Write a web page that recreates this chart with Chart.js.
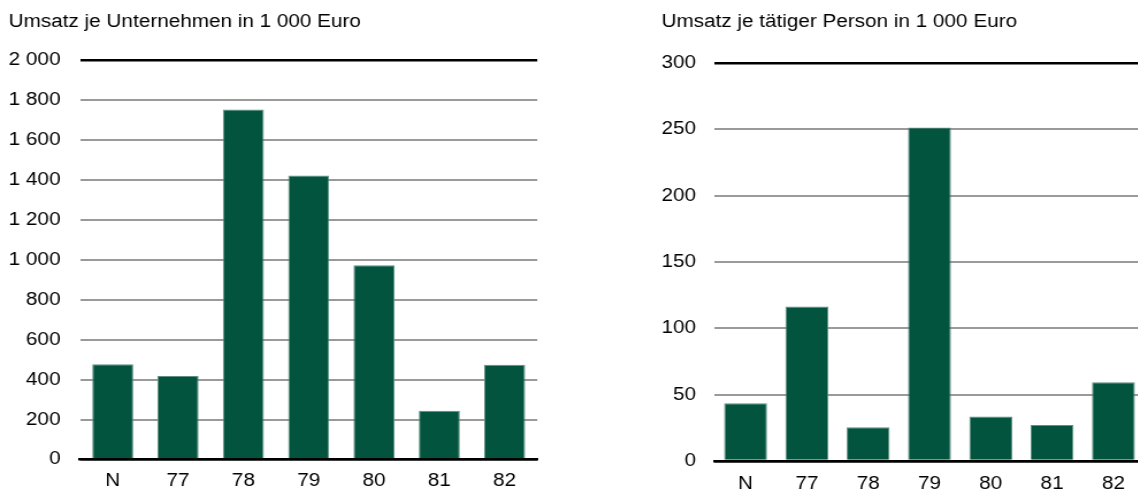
<!DOCTYPE html>
<html lang="de">
<head>
<meta charset="utf-8">
<title>Umsatz je Unternehmen / je tätiger Person</title>
<script src="https://cdn.jsdelivr.net/npm/chart.js@4/dist/chart.umd.min.js"></script>
<style>
    html, body {
        margin: 0;
        padding: 0;
        background: #ffffff;
        overflow: hidden;
        width: 1138px;
        height: 495px;
    }
    .chart-box {
        position: absolute;
        top: 0;
        height: 495px;
        transform: scaleX(1.15);
        transform-origin: 0 0;
    }
    #leftBox {
        left: 0;
        width: 480px;
    }
    #rightBox {
        left: 650px;
        width: 440px;
    }
</style>
</head>
<body>
<div class="chart-box" id="leftBox"><canvas id="leftChart"></canvas></div>
<div class="chart-box" id="rightBox"><canvas id="rightChart"></canvas></div>

<script>
var categories = ['N', '77', '78', '79', '80', '81', '82'];
var umsatzJeUnternehmen = [477, 418, 1752, 1422, 972, 244, 474];
var umsatzJePerson = [43.6, 116.5, 25.4, 251.3, 33.5, 27.2, 59.4];
var leftTicks = {min: 0, max: 2000, step: 200};
var rightTicks = {min: 0, max: 300, step: 50};

var FONT_FAMILY = "'Liberation Sans', Arial, Helvetica, sans-serif";
var BAR_COLOR = '#03543f';
var BAR_EDGE = '#5f8f80';
var GRID_GRAY = '#9a9a9a';
var HIDDEN = 'rgba(0,0,0,0)';

function formatNumber(value) {
    return String(value).replace(/\B(?=(\d{3})+(?!\d))/g, ' ');
}

// tick marks are kept but made invisible: they only give the gap between labels and plot
function buildChart(canvasId, title, values, ticks, layout) {
    var ctx = document.getElementById(canvasId);

    return new Chart(ctx, {
        type: 'bar',
        data: {
            labels: categories,
            datasets: [{
                label: title,
                data: values,
                backgroundColor: BAR_COLOR,
                borderColor: BAR_EDGE,
                borderWidth: 1,
                barPercentage: layout.barPercentage,
                categoryPercentage: 1
            }]
        },
        options: {
            responsive: true,
            maintainAspectRatio: false,
            animation: false,
            layout: {
                padding: layout.padding
            },
            plugins: {
                legend: {display: false},
                tooltip: {enabled: false},
                title: {
                    display: true,
                    text: title,
                    align: 'start',
                    color: '#000000',
                    font: {family: FONT_FAMILY, size: 18, weight: 'normal'},
                    padding: layout.titlePadding
                }
            },
            scales: {
                x: {
                    grid: {
                        display: true,
                        color: HIDDEN,
                        tickColor: HIDDEN,
                        drawTicks: true,
                        tickLength: layout.xGap
                    },
                    border: {display: true, color: '#000000', width: 2.5},
                    ticks: {
                        color: '#000000',
                        font: {family: FONT_FAMILY, size: 18, lineHeight: 1},
                        padding: 0
                    }
                },
                y: {
                    min: ticks.min,
                    max: ticks.max,
                    border: {display: false},
                    grid: {
                        drawTicks: true,
                        tickLength: layout.yGap,
                        tickColor: HIDDEN,
                        color: function(context) {
                            var v = context.tick ? context.tick.value : null;
                            return (v === ticks.max || v === ticks.min) ? '#000000' : GRID_GRAY;
                        },
                        lineWidth: function(context) {
                            var v = context.tick ? context.tick.value : null;
                            return (v === ticks.max || v === ticks.min) ? 2.5 : 2;
                        }
                    },
                    ticks: {
                        stepSize: ticks.step,
                        color: '#000000',
                        font: {family: FONT_FAMILY, size: 18},
                        padding: 0,
                        callback: function(value) {
                            return formatNumber(value);
                        }
                    }
                }
            }
        }
    });
}

buildChart('leftChart', 'Umsatz je Unternehmen in 1 000 Euro', umsatzJeUnternehmen, leftTicks, {
    barPercentage: 0.628,
    padding: {left: 7.6, right: 12.8, top: 0, bottom: 5.1},
    titlePadding: {top: 11.5, bottom: 26.9},
    xGap: 12.4,
    yGap: 17
});

buildChart('rightChart', 'Umsatz je tätiger Person in 1 000 Euro', umsatzJePerson, rightTicks, {
    barPercentage: 0.70,
    padding: {left: 10, right: 10.4, top: 0, bottom: 2.1},
    titlePadding: {top: 11.5, bottom: 29.9},
    xGap: 13.9,
    yGap: 16.4
});
</script>
</body>
</html>
